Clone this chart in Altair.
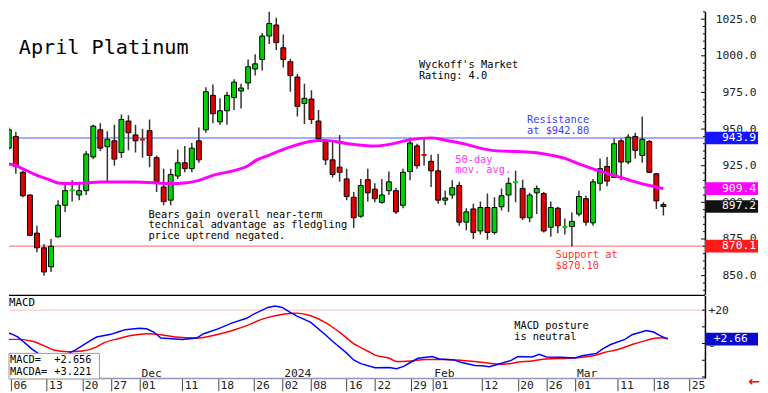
import altair as alt
import pandas as pd

# ---------------- data ----------------
holidays = {"2023-11-23", "2023-12-25", "2024-01-01", "2024-01-15", "2024-02-19"}
sessions = [d.strftime("%Y-%m-%d") for d in pd.bdate_range("2023-11-03", "2024-03-27")
            if d.strftime("%Y-%m-%d") not in holidays]
pos_of = {d: i for i, d in enumerate(sessions)}

opens = [937, 945, 920.5, 905, 879, 869, 856, 876.5, 898, 908, 905, 908, 931, 949.5, 938, 942, 934, 955.5, 946,
         943, 949, 930.5, 910.5, 901.5, 918, 927, 923, 942, 949.5, 973, 955, 962.5, 971.5, 976, 981.5, 991, 997.5, 1013.5, 1021,
         1005.5, 996, 985.5, 967.5, 970.5, 955.5, 941.5, 929, 924, 916, 903.5, 890.5, 915.5, 909, 900, 908, 908, 898, 921, 938.5, 932.5,
         928, 921.5, 901.5, 905, 911.5, 886.5, 895.5, 880.5, 896.5, 879.5, 897, 905, 913.5, 909.5, 889.5, 906.5, 906, 883, 896, 883,
         883.5, 892, 902.5, 886, 913, 924.5, 917, 942, 927.5, 945, 932, 941.5, 919.5, 898.5]
highs = [951, 948, 921.5, 905.5, 884, 871.5, 875, 901.5, 914, 915, 914, 935, 953, 954, 948.5, 953, 960, 959.5, 953,
         950, 956.5, 932, 923, 923, 936, 938.5, 940.5, 951, 978.5, 980.5, 971, 975.5, 984, 981, 997.5, 1001, 1015.5, 1030, 1026,
         1014.5, 998, 987.5, 981, 976.5, 963, 943, 942, 946, 923, 907, 916, 923, 913, 916, 921, 910, 923, 944, 940, 944,
         932.5, 933, 908, 915, 914, 896, 899, 900.5, 906, 903.5, 909.5, 917, 921.5, 915.5, 906.5, 911.5, 907, 900.5, 897, 889,
         893, 908, 904.5, 916, 930, 931, 943.5, 943.5, 946.5, 947.5, 958.5, 942.5, 920, 900]
lows = [936, 919.5, 903.5, 877, 866, 850, 852.5, 876, 893.5, 900.5, 901.5, 905, 929.5, 935, 914, 925, 930.5, 935.5, 934,
        930.5, 924, 907, 898, 898, 916, 920.5, 920.5, 927, 947.5, 954, 953, 953, 963, 964, 977, 986.5, 990, 1008, 1004,
        992, 975.5, 958.5, 953.5, 953.5, 942, 925.5, 917, 914, 901.5, 882.5, 889.5, 900.5, 900, 899, 905, 892, 896, 915, 923, 925,
        910.5, 899, 898, 902.5, 884, 881, 875, 878, 874.5, 878, 894.5, 893.5, 900, 888, 886.5, 892, 879.5, 876.5, 879, 878,
        870, 890.5, 884, 884, 908, 911, 917, 915, 926, 930, 927, 920, 895.5, 891]
closes = [949.5, 924.5, 904.5, 877.5, 869, 852.5, 870, 898, 908, 908.5, 908, 933, 952, 937, 943, 929.5, 956.5, 947.5, 942,
          942.7, 932, 914, 900.5, 919, 927, 923, 937, 929, 975.5, 960.5, 962.5, 973, 982, 978, 992.5, 994.5, 1013.5, 1022, 1009,
          997.5, 986.5, 965.5, 971, 956.5, 943.5, 929, 919, 920.5, 904, 889.5, 911.5, 906.5, 902.5, 905, 914, 893.5, 920.5, 940.5, 925, 932,
          921.5, 901.5, 903, 910, 886.5, 893.5, 879.5, 896.5, 879.5, 896.5, 904.5, 913, 914, 889.5, 905, 909.5, 880.5, 896.5, 884, 883.5,
          887, 904, 886.5, 914, 923, 914.5, 940, 927.5, 944.5, 935.5, 943, 920.5, 901, 897.2]

ma_dates = ["2023-11-03", "2023-11-06", "2023-11-07", "2023-11-09", "2023-11-13", "2023-11-14", "2023-11-16",
            "2023-11-20", "2023-11-22", "2023-11-30", "2023-12-05", "2023-12-07", "2023-12-11", "2023-12-13",
            "2023-12-15", "2023-12-20", "2023-12-22", "2023-12-26", "2023-12-28", "2024-01-03", "2024-01-05",
            "2024-01-09", "2024-01-10", "2024-01-16", "2024-01-22", "2024-01-25", "2024-01-29", "2024-02-01",
            "2024-02-05", "2024-02-08", "2024-02-12", "2024-02-14", "2024-02-20", "2024-02-23", "2024-02-27",
            "2024-02-29", "2024-03-04", "2024-03-06", "2024-03-08", "2024-03-12", "2024-03-14", "2024-03-18",
            "2024-03-20"]
ma_values = [926.2, 925.1, 922.9, 918.4, 915.0, 913.2, 912.8, 913.2, 913.9, 913.9, 913.2, 912.8, 913.2, 915.0,
             918.4, 921.7, 925.0, 928.3, 932.3, 937.8, 940.7, 942.2, 942.3, 940.2, 938.5, 940.5, 942.8, 944.0,
             942.4, 939.6, 937.0, 935.3, 934.7, 933.8, 932.2, 930.0, 926.2, 922.8, 919.8, 916.9, 914.0, 911.5,
             909.4]

macd_dates = ["2023-11-03", "2023-11-06", "2023-11-07", "2023-11-09", "2023-11-10", "2023-11-13", "2023-11-14",
              "2023-11-15", "2023-11-16", "2023-11-17", "2023-11-21", "2023-11-22", "2023-11-27", "2023-11-28",
              "2023-11-29", "2023-12-01", "2023-12-04", "2023-12-05", "2023-12-06", "2023-12-11", "2023-12-13",
              "2023-12-14", "2023-12-18", "2023-12-20", "2023-12-22", "2023-12-26", "2023-12-28", "2023-12-29",
              "2024-01-02", "2024-01-03", "2024-01-04", "2024-01-08", "2024-01-10", "2024-01-11", "2024-01-16",
              "2024-01-17", "2024-01-18", "2024-01-22", "2024-01-24", "2024-01-25", "2024-01-26", "2024-01-29",
              "2024-01-30", "2024-02-01", "2024-02-02", "2024-02-06", "2024-02-07", "2024-02-09", "2024-02-12",
              "2024-02-13", "2024-02-14", "2024-02-16", "2024-02-20", "2024-02-22", "2024-02-23", "2024-02-26",
              "2024-02-28", "2024-03-01", "2024-03-04", "2024-03-06", "2024-03-07", "2024-03-08", "2024-03-12",
              "2024-03-13", "2024-03-15", "2024-03-18", "2024-03-19", "2024-03-20"]
macd_values = [6.9, 5.9, 3.8, -3.5, -6.5, -8.5, -9.0, -7.8, -6.0, -3.9, 1.4, 3.9, 5.5, 6.9,
               8.3, 9.2, 8.8, 6.9, 3.3, 2.4, 3.3, 5.9, 8.8, 12.4, 15.1, 17.6, 21.6, 22.5,
               21.6, 19.0, 16.6, 12.7, 5.4, 1.5, -5.6, -9.8, -12.0, -14.5, -14.3, -15.1, -13.7, -11.2,
               -8.8, -7.8, -9.2, -9.8, -11.2, -13.1, -13.3, -13.9, -12.7, -10.2, -7.8, -8.0, -6.5, -8.0,
               -8.2, -8.6, -7.3, -5.9, -2.9, -0.6, 2.5, 5.3, 7.8, 6.9, 4.6, 2.656]

sig_dates = ["2023-11-03", "2023-11-06", "2023-11-07", "2023-11-09", "2023-11-13", "2023-11-14", "2023-11-16",
             "2023-11-20", "2023-11-22", "2023-11-24", "2023-11-28", "2023-11-30", "2023-12-04", "2023-12-06",
             "2023-12-08", "2023-12-13", "2023-12-15", "2023-12-20", "2023-12-22", "2023-12-27", "2023-12-29",
             "2024-01-03", "2024-01-04", "2024-01-08", "2024-01-10", "2024-01-11", "2024-01-12", "2024-01-16",
             "2024-01-17", "2024-01-18", "2024-01-19", "2024-01-22", "2024-01-24", "2024-01-25", "2024-01-29",
             "2024-01-31", "2024-02-05", "2024-02-07", "2024-02-09", "2024-02-14", "2024-02-15", "2024-02-20",
             "2024-02-22", "2024-02-26", "2024-02-29", "2024-03-04", "2024-03-06", "2024-03-07", "2024-03-11",
             "2024-03-13", "2024-03-15", "2024-03-18", "2024-03-19", "2024-03-20"]
sig_values = [1.4, 2.5, 2.5, 1.4, -2.0, -3.9, -4.9, -4.5, -2.0, 0.4, 2.9, 4.9, 5.9, 5.3,
              3.9, 3.3, 4.5, 7.8, 10.7, 14.3, 16.6, 18.0, 18.2, 16.6, 12.6, 9.9, 6.8, 3.4,
              0.0, -2.4, -4.6, -6.9, -8.8, -10.8, -10.4, -9.6, -9.6, -10.0, -10.8, -12.2, -12.4, -11.2,
              -10.4, -9.2, -8.8, -8.2, -6.9, -5.5, -3.6, -0.6, 1.9, 3.0, 3.4, 3.221]

tick_dates = ["2023-11-06", "2023-11-13", "2023-11-20", "2023-11-27", "2023-12-01", "2023-12-11", "2023-12-18",
              "2023-12-26", "2024-01-02", "2024-01-08", "2024-01-16", "2024-01-22", "2024-01-29", "2024-02-01",
              "2024-02-12", "2024-02-20", "2024-02-26", "2024-03-01", "2024-03-11", "2024-03-18", "2024-03-25"]
month_dates = ["2023-12-01", "2024-01-02", "2024-02-01", "2024-03-01"]
month_labels = ["Dec", "2024", "Feb", "Mar"]

resistance = 943.9
support = 870.1
macd_last, sig_last = 2.656, 3.221

# ---------------- tables ----------------
cdf = pd.DataFrame({"date": sessions[:len(opens)], "open": opens, "high": highs, "low": lows, "close": closes})
cdf["pos"] = [pos_of[d] for d in cdf["date"]]
madf = pd.DataFrame({"pos": [pos_of[d] for d in ma_dates], "v": ma_values})
mdf = pd.DataFrame({"pos": [pos_of[d] for d in macd_dates], "v": macd_values})
sdf = pd.DataFrame({"pos": [pos_of[d] for d in sig_dates], "v": sig_values})
monthdf = pd.DataFrame({"pos": [pos_of[d] for d in month_dates], "t": month_labels})
tick_pos = [pos_of[d] for d in tick_dates]
tick_lab = [d[8:10] for d in tick_dates]
one = pd.DataFrame({"k": [0]})

MONO = "DejaVu Sans Mono"
W = 708
XDOM = [0.7246, 98.205]
PDOM = [837.2, 1030.37]
MDOM = [-20.59, 28.82]

xs = alt.Scale(domain=XDOM, nice=False, zero=False)
ps = alt.Scale(domain=PDOM, nice=False, zero=False)
ms = alt.Scale(domain=MDOM, nice=False, zero=False)

lab_js = "[" + ",".join(f"'{t}'" for t in tick_lab) + "]"
pos_js = "[" + ",".join(str(p) for p in tick_pos) + "]"
xaxis = alt.Axis(values=tick_pos, labelExpr=f"{lab_js}[indexof({pos_js}, datum.value)]", labelFont=MONO,
                 labelFontSize=11.5, labelColor="#222", labelAlign="left", labelBaseline="top", labelOffset=2,
                 tickSize=13, labelPadding=-11, tickColor="#444", domainColor="#9494b8", domainWidth=1.5,
                 grid=False, labelFlush=False, labelOverlap=False, labelBound=False, orient="bottom")

Xn = lambda f="pos": alt.X(f"{f}:Q", scale=xs, axis=None)               # price panel: no x axis
Xm = lambda f="pos": alt.X(f"{f}:Q", scale=xs, axis=xaxis, title=None)  # macd panel: date axis
Yp = lambda f: alt.Y(f"{f}:Q", scale=ps, title=None)
Ym = lambda f: alt.Y(f"{f}:Q", scale=ms, title=None)


def txt(lines, x, y0, step=11, color="black", size=10.5, font=MONO, align="left", weight="normal"):
    out = []
    for k, line in enumerate(lines):
        out.append(alt.Chart(one).mark_text(align=align, baseline="middle", font=font, fontSize=size,
                                            color=color, fontWeight=weight)
                   .encode(x=alt.value(x), y=alt.value(y0 + k * step), text=alt.value(line)))
    return out


# ---------------- price panel ----------------
price_axis = alt.Chart(pd.DataFrame({"v": [resistance]})).mark_rule(color="#8c8cff", strokeWidth=1.5).encode(
    y=alt.Y("v:Q", scale=ps, title=None,
            axis=alt.Axis(orient="right", values=[850, 875, 900, 925, 950, 975, 1000, 1025], format=".1f",
                          labelFont=MONO, labelFontSize=11.5, labelColor="#222", labelAlign="right",
                          labelPadding=52, ticks=False, domainColor="black",
                          domainWidth=1.5, grid=False, labelBaseline="middle")))
sup_rule = alt.Chart(pd.DataFrame({"v": [support]})).mark_rule(color="#ff8080", strokeWidth=1.2).encode(y=Yp("v"))

# inward tick marks on the price scale (every 5, longer every 25)
pticks = pd.DataFrame({"v": list(range(840, 1031, 5))})
pticks["major"] = pticks["v"] % 25 == 0
ptick_minor = alt.Chart(pticks[~pticks.major]).mark_rule(color="black", strokeWidth=1).encode(
    x=alt.value(W - 2), x2=alt.value(W), y=Yp("v"))
ptick_major = alt.Chart(pticks[pticks.major]).mark_rule(color="black", strokeWidth=1).encode(
    x=alt.value(W - 4), x2=alt.value(W), y=Yp("v"))

cbase = alt.Chart(cdf).transform_calculate(
    dir="datum.close >= datum.open ? 'up' : 'down'",
    mid="(datum.open + datum.close) / 2",
    doji="abs(datum.close - datum.open) < 1.2",
).transform_calculate(
    btop="datum.doji ? datum.mid + 0.7 : max(datum.open, datum.close)",
    bbot="datum.doji ? datum.mid - 0.7 : min(datum.open, datum.close)",
)
wicks = cbase.mark_rule(color="#333333", strokeWidth=1.5, clip=True).encode(x=Xn(), y=Yp("low"), y2="high:Q")
bodies = cbase.mark_bar(size=5, stroke="black", strokeWidth=1, clip=True).encode(
    x=Xn(), y=Yp("bbot"), y2="btop:Q",
    color=alt.Color("dir:N", scale=alt.Scale(domain=["up", "down"], range=["#00d400", "#e00000"]), legend=None),
    strokeOpacity=alt.condition("datum.doji", alt.value(0), alt.value(1)),
)
ma_line = alt.Chart(madf).mark_line(color="#ff00ff", strokeWidth=3, clip=True, interpolate="monotone").encode(
    x=Xn(), y=Yp("v"))

box_vals = [resistance, ma_values[-1], closes[-1], support]
box_cols = ["#1414ff", "#ff00ff", "#111111", "#ff1a1a"]
box_layers = []
for v, c in zip(box_vals, box_cols):
    bd = pd.DataFrame({"v": [v]})
    box_layers.append(alt.Chart(bd).transform_calculate(lo="datum.v - 4.3", hi="datum.v + 4.3")
                      .mark_rect(color=c).encode(x=alt.value(W), x2=alt.value(762), y=Yp("lo"), y2="hi:Q"))
    box_layers.append(alt.Chart(bd).mark_text(align="right", baseline="middle", font=MONO, fontSize=11.5,
                                              color="white")
                      .encode(x=alt.value(760), y=Yp("v"), text=alt.Text("v:Q", format=".1f")))

annos = []
annos += txt(["April Platinum"], 10, 37, size=20.5)
annos += txt(["Wyckoff's Market", "Rating: 4.0"], 417, 55)
annos += txt(["Resistance", "at $942.80"], 527, 111, color="#3c3cff")
annos += txt(["50-day", "mov. avg."], 454, 151, color="#ff33ff")
annos += txt(["Bears gain overall near-term", "technical advantage as fledgling", "price uptrend negated."], 142, 207,
             step=10.6)
annos += txt(["Support at", "$870.10"], 556, 248, color="#ff3333")

price = alt.layer(price_axis, sup_rule, ptick_minor, ptick_major, wicks, bodies, ma_line, *annos,
                  *box_layers).properties(width=W, height=288)

# ---------------- MACD panel ----------------
macd_axis = alt.Chart(pd.DataFrame({"v": [20]})).mark_rule(color="#ffc8c8", strokeWidth=1.5).encode(
    y=alt.Y("v:Q", scale=ms, title=None,
            axis=alt.Axis(orient="right", values=[-20, -10, 0, 10, 20],
                          labelExpr="datum.value == 20 ? '+20' : (datum.value == 0 ? '0' : '')",
                          labelFont=MONO, labelFontSize=11.5, labelColor="#222", labelAlign="left",
                          labelPadding=3, ticks=False, domainColor="black",
                          domainWidth=1.5, grid=False, labelBaseline="middle")))
mticks = pd.DataFrame({"v": [-20, -10, 0, 10, 20]})
mtick_marks = alt.Chart(mticks).mark_rule(color="black", strokeWidth=1).encode(
    x=alt.value(W - 3), x2=alt.value(W), y=Ym("v"))
sig_line = alt.Chart(sdf).mark_line(color="#ff0000", strokeWidth=1.5, clip=True, interpolate="monotone").encode(
    x=Xm(), y=Ym("v"))
macd_line = alt.Chart(mdf).mark_line(color="#0000ff", strokeWidth=1.5, clip=True).encode(x=Xm(), y=Ym("v"))
top_rule = alt.Chart(one).mark_rule(color="black", strokeWidth=1.5).encode(
    x=alt.value(0), x2=alt.value(W), y=alt.value(0))
months = alt.Chart(monthdf).mark_text(align="left", baseline="alphabetic", font=MONO, fontSize=11.5,
                                      color="#222", dx=2).encode(x=Xm(), y=alt.value(83), text="t:N")
legend_box = alt.Chart(one).mark_rect(fill="white", stroke="#999999", strokeWidth=1).encode(
    x=alt.value(0), x2=alt.value(92), y=alt.value(59), y2=alt.value(85))
m_annos = []
m_annos += txt(["MACD"], 0, 8, size=11)
m_annos += txt(["MACD=", "MACDA="], 1, 66, step=11.5, size=10.5)
m_annos += txt([f"{macd_last:+.3f}", f"{sig_last:+.3f}"], 84, 66, step=11.5, size=10.5, align="right")
m_annos += txt(["MACD posture", "is neutral"], 514, 31)
m_box_df = pd.DataFrame({"v": [macd_last]})
m_box = alt.Chart(m_box_df).transform_calculate(lo="datum.v - 3.8", hi="datum.v + 3.8").mark_rect(
    color="#0a0acc").encode(x=alt.value(W), x2=alt.value(762), y=Ym("lo"), y2="hi:Q")
m_box_text = alt.Chart(m_box_df).mark_text(align="left", baseline="middle", font=MONO, fontSize=11.5,
                                           color="white").encode(
    x=alt.value(717), y=Ym("v"), text=alt.Text("v:Q", format="+.2f"))
arrow = txt(["\u2190"], 752, 88, size=14, color="#ff0000", font="DejaVu Sans", weight="bold")

macd = alt.layer(macd_axis, mtick_marks, sig_line, macd_line, top_rule, months, legend_box, *m_annos, m_box,
                 m_box_text, *arrow).properties(width=W, height=84)

chart = alt.vconcat(price, macd, spacing=0).properties(padding=0).configure_view(stroke=None).configure_axis(
    grid=False)
chart.save("out.html", embed_options={"renderer": "svg", "actions": False})
